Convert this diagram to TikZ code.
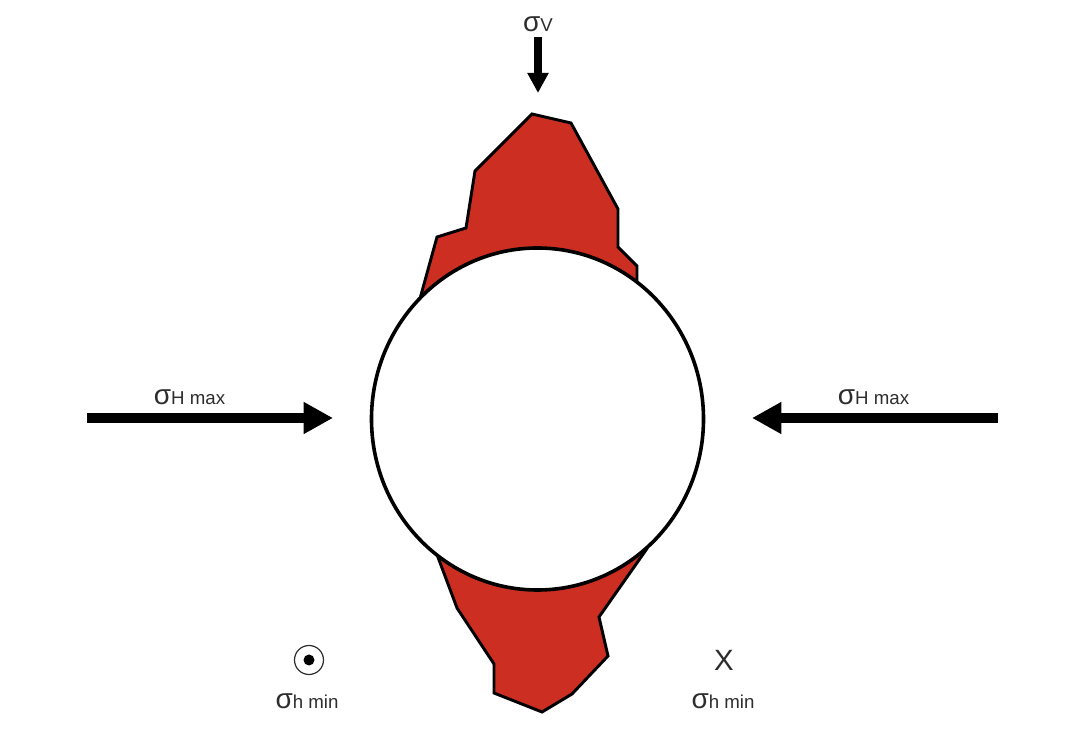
\documentclass[tikz,border=0pt]{standalone}
\usepackage{fontspec}
\setmainfont{Liberation Sans}
\usepackage{tikz}
\usetikzlibrary{arrows.meta}

\definecolor{breakout}{RGB}{204,46,33}
\definecolor{labelgrey}{RGB}{45,45,45}

\newcommand{\sig}[1]{{\fontsize{21}{21}\selectfont σ}{\fontsize{14}{14}\selectfont #1}}

\tikzset{
  stressbig/.style={line width=7.5pt,-{Triangle[length=22pt,width=22.5pt]}},
  stresssmall/.style={line width=5.3pt,-{Triangle[length=15pt,width=15pt]}},
  stresslabel/.style={inner sep=0.75pt,text=labelgrey},
  breakoutzone/.style={draw=black,line width=2.2pt,line join=miter,fill=breakout},
}

\begin{document}
\begin{tikzpicture}[x=0.75pt,y=0.75pt,yscale=-1,xscale=1]
\useasboundingbox (0,0) rectangle (1090,730);

%Shape: upper breakout
\draw [breakoutzone] (421,295) -- (437,237) -- (466,228) -- (475,171) -- (532,114) -- (571,123) -- (618,209) -- (618,247) -- (637,266) -- (637,290) -- cycle ;
%Shape: lower breakout
\draw [breakoutzone] (436,552) -- (457,608) -- (494,664) -- (494,693) -- (542,712) -- (572,694) -- (608,656) -- (599,617) -- (646,550) -- cycle ;
%Shape: Ellipse
\draw [line width=2.7pt,fill=white] (537.5,419) ellipse [x radius=166, y radius=171] ;

%Straight Lines
\coordinate (vstart) at (538,37);
\coordinate (vend) at (538,93);
\draw [stresssmall] (vstart) -- (vend) ;
\coordinate (hleftstart) at (87,418);
\coordinate (hleftend) at (333,418);
\draw [stressbig] (hleftstart) -- (hleftend) ;
\coordinate (hrightstart) at (998,418);
\coordinate (hrightend) at (752,418);
\draw [stressbig] (hrightstart) -- (hrightend) ;

%Shape: out of plane symbol
\draw [line width=0.9pt,draw=labelgrey] (309,660) circle [radius=14.5] ;
\fill (309,660) circle [radius=5.5] ;

% Text Node
\node (sigv) [stresslabel] at (538,24) {\sig{V}};
% Text Node
\node (sighleft) [stresslabel] at (189.5,397) {\sig{H max}};
% Text Node
\node (sighright) [stresslabel] at (873.5,397) {\sig{H max}};
% Text Node
\node (sigminleft) [stresslabel] at (307,701) {\sig{h min}};
% Text Node
\node (sigminright) [stresslabel] at (723,701) {\sig{h min}};
% Text Node
\node (cross) [stresslabel] at (724,660) {\fontsize{22}{22}\selectfont X};

\end{tikzpicture}
\end{document}
